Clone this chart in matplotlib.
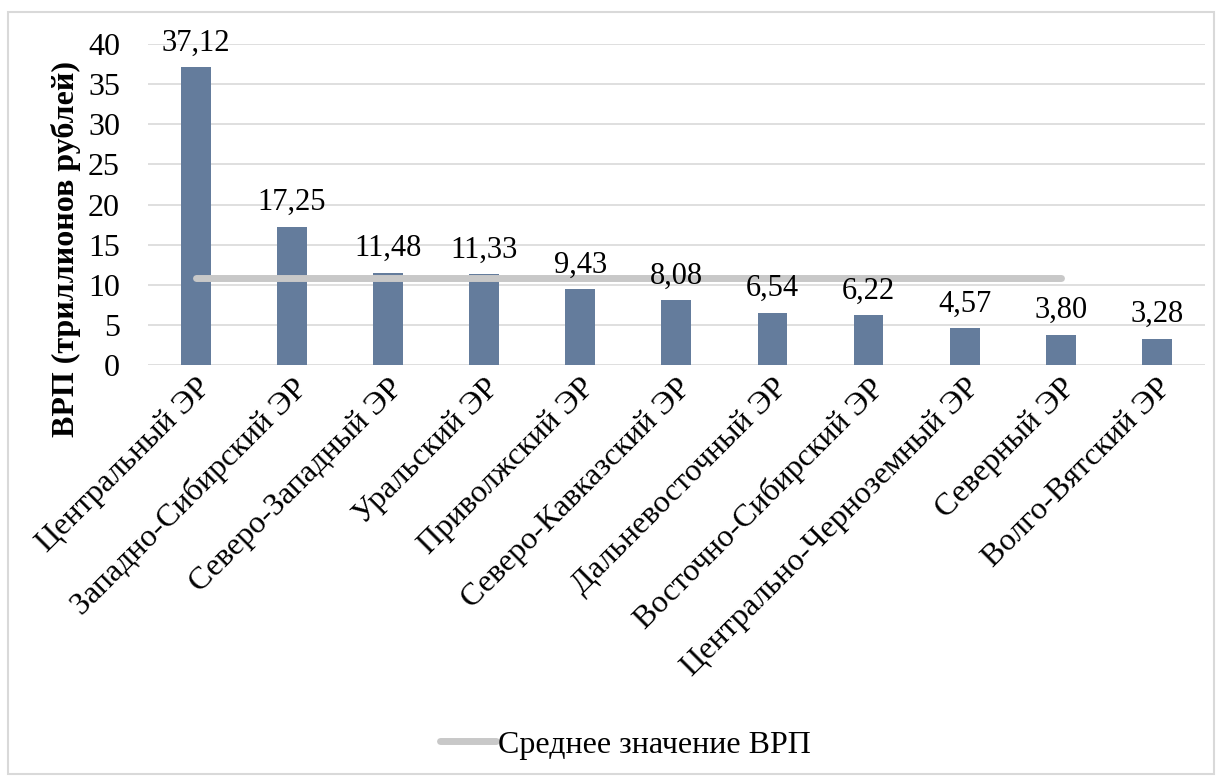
import matplotlib.pyplot as plt
from matplotlib.patches import Rectangle
import matplotlib.font_manager as fm

# pick the Liberation Serif files directly
serif_files = {f.fname.split('/')[-1]: f.fname for f in fm.fontManager.ttflist
               if f.name == 'Liberation Serif'}
reg = serif_files['LiberationSerif-Regular.ttf']
bold = serif_files['LiberationSerif-Bold.ttf']
f_tick = fm.FontProperties(fname=reg, size=23)
f_val = fm.FontProperties(fname=reg, size=22)
f_bold = fm.FontProperties(fname=bold, size=23)

regions = ['Центральный ЭР', 'Западно-Сибирский ЭР', 'Северо-Западный ЭР',
           'Уральский ЭР', 'Приволжский ЭР', 'Северо-Кавказский ЭР',
           'Дальневосточный ЭР', 'Восточно-Сибирский ЭР',
           'Центрально-Черноземный ЭР', 'Северный ЭР', 'Волго-Вятский ЭР']
grp = [37.12, 17.25, 11.48, 11.33, 9.43, 8.08, 6.54, 6.22, 4.57, 3.80, 3.28]
# mean line as drawn in the source (10 points)
mean_vals = [10.83] * 10

fig = plt.figure(figsize=(12.22, 7.76), dpi=100)
ax = fig.add_axes([0.121, 0.5296, 0.865, 0.4137])

x = list(range(len(regions)))
ax.bar(x, grp, width=0.31, color='#647C9C', zorder=2)
ax.plot(range(len(mean_vals)), mean_vals, color='#C8C8C8', lw=5,
        solid_capstyle='round', zorder=3, label='Среднее значение ВРП')

for xi, v in zip(x, grp):
    ax.annotate(f'{v:.2f}'.replace('.', ','), (xi, v), xytext=(0, 7),
                textcoords='offset points', ha='center', va='bottom',
                fontproperties=f_val)

ax.set_xlim(-0.5, len(regions) - 0.5)
ax.set_ylim(0, 40)
ax.set_yticks(range(0, 41, 5))
ax.grid(axis='y', color='#D9D9D9', lw=1.2, zorder=0)
ax.set_axisbelow(True)
for s in ax.spines.values():
    s.set_visible(False)
ax.tick_params(axis='both', length=0)
ax.tick_params(axis='y', pad=20)
ax.set_xticks(x)
ax.set_xticklabels(regions, rotation=45, ha='right', rotation_mode='anchor',
                   fontproperties=f_tick)
for t in ax.get_yticklabels():
    t.set_fontproperties(f_tick)
ax.tick_params(axis='x', pad=6)
ax.set_ylabel('ВРП (триллионов рублей)', fontproperties=f_bold)
ax.yaxis.set_label_coords(-0.063, 0.36)

fig.legend(loc='center', bbox_to_anchor=(0.512, 0.04), frameon=False,
           prop=f_tick, handlelength=1.75, handletextpad=0.05)

fig.patches.append(Rectangle((8 / 1222, 2 / 776), 1206 / 1222, 762 / 776,
                             transform=fig.transFigure, fill=False,
                             edgecolor='#D9D9D9', lw=1.5))

fig.savefig('out.png', dpi=100)
